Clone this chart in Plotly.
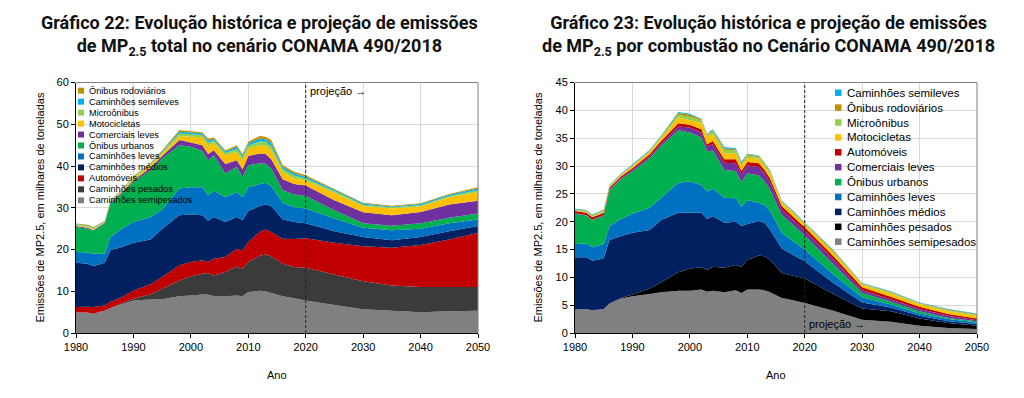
import plotly.graph_objects as go

# page is rendered with the browser's default 8px body margin
OFF = 8
W, H = 1024 - 2 * OFF, 398 - 2 * OFF

years = [1980, 1982, 1983, 1985, 1986, 1988, 1990, 1993, 1995, 1998, 2000, 2002, 2003, 2004, 2006,
         2008, 2009, 2010, 2012, 2013, 2014, 2016, 2018, 2020, 2025, 2030, 2035, 2040, 2045, 2050]
x_ticks = [1980, 1990, 2000, 2010, 2020, 2030, 2040, 2050]
projection_start = 2020

# ---- Gráfico 22 (total) ----
L_semipesados = [4.9, 4.9, 4.6, 5.4, 5.9, 6.9, 7.8, 8.0, 8.1, 8.8, 9.0, 9.2, 9.2, 8.8, 8.8, 9.0, 8.8, 9.8, 10.1, 10.0, 9.6, 8.8, 8.3, 7.8, 6.7, 5.7, 5.3, 5.0, 5.2, 5.3]
L_pesados = [0, 0, 0, 0, 0.1, 0.2, 0.4, 1.3, 2.5, 3.8, 4.6, 5.0, 5.2, 5.0, 5.8, 6.9, 6.6, 7.2, 8.4, 8.8, 8.8, 7.8, 7.5, 7.8, 7.3, 6.7, 6.1, 6.0, 5.8, 5.7]
L_automoveis = [1.3, 1.4, 1.6, 1.2, 1.4, 1.5, 2.0, 2.4, 2.8, 3.6, 3.4, 3.2, 2.6, 4.0, 3.6, 4.3, 4.4, 4.8, 5.7, 6.0, 5.8, 6.0, 6.7, 7.1, 7.6, 8.4, 9.0, 10.1, 11.4, 13.0]
L_medios = [10.6, 10.3, 9.8, 10.2, 12.4, 12.0, 11.4, 10.7, 11.6, 12.0, 11.4, 10.8, 9.9, 10.0, 8.4, 7.6, 7.2, 7.4, 6.2, 6.0, 6.2, 4.6, 4.1, 3.6, 2.8, 2.2, 1.8, 1.9, 2.0, 1.6]
L_leves = [2.6, 2.7, 3.0, 2.2, 3.2, 4.4, 5.0, 5.4, 4.6, 6.4, 6.5, 6.7, 6.1, 6.3, 5.9, 6.0, 5.5, 5.7, 5.3, 5.2, 4.8, 4.0, 3.6, 3.5, 3.0, 2.2, 2.4, 2.0, 1.9, 1.6]
L_urbanos = [6.0, 5.7, 5.5, 7.2, 8.0, 8.4, 9.6, 11.2, 12.2, 10.4, 9.7, 8.7, 8.4, 8.5, 5.7, 6.0, 4.9, 5.3, 4.9, 4.6, 4.2, 3.0, 3.0, 3.0, 2.0, 1.1, 1.1, 1.3, 1.3, 1.4]
L_comerciais = [0.2, 0.2, 0.2, 0.2, 0.3, 0.3, 0.4, 0.6, 0.6, 1.2, 1.0, 1.4, 1.5, 1.2, 2.3, 1.6, 1.8, 2.2, 2.4, 2.3, 2.2, 2.6, 2.5, 2.5, 2.4, 2.6, 2.5, 2.7, 3.2, 3.1]
L_motocicletas = [0.2, 0.2, 0.2, 0.1, 0.2, 0.3, 0.4, 0.6, 0.5, 1.0, 1.4, 1.9, 1.9, 1.8, 2.1, 2.0, 2.2, 1.8, 1.9, 2.0, 2.2, 1.8, 1.3, 1.2, 1.8, 1.5, 1.6, 1.3, 1.7, 2.1]
L_microonibus = [0.2, 0.2, 0.2, 0.1, 0.1, 0.2, 0.3, 0.3, 0.4, 0.6, 0.6, 0.5, 0.8, 0.5, 0.5, 0.7, 0.7, 0.7, 1.0, 0.9, 1.0, 0.7, 0.7, 0.5, 0.4, 0.3, 0.3, 0.3, 0.3, 0.4]
L_semileves = [0.1, 0.1, 0.1, 0.1, 0.1, 0.1, 0.1, 0.1, 0.2, 0.4, 0.4, 0.4, 0.5, 0.4, 0.4, 0.5, 0.4, 0.5, 0.7, 0.6, 0.7, 0.5, 0.5, 0.4, 0.3, 0.3, 0.2, 0.3, 0.3, 0.4]
L_rodoviarios = [0.1, 0.2, 0.2, 0.1, 0.1, 0.1, 0.2, 0.2, 0.2, 0.4, 0.3, 0.3, 0.5, 0.3, 0.3, 0.4, 0.4, 0.4, 0.6, 0.6, 0.7, 0.4, 0.4, 0.4, 0.2, 0.2, 0.2, 0.2, 0.2, 0.3]

# ---- Gráfico 23 (combustão) ----
R_semipesados = [4.2, 4.3, 4.1, 4.3, 5.3, 6.2, 6.6, 7.0, 7.3, 7.6, 7.6, 7.8, 7.4, 7.6, 7.3, 7.7, 7.2, 7.8, 7.8, 7.7, 7.3, 6.3, 5.9, 5.4, 4.0, 2.4, 2.0, 1.3, 0.9, 0.7]
R_pesados = [0, 0, 0, 0, 0, 0.1, 0.3, 1.0, 1.8, 3.3, 4.0, 4.0, 3.9, 4.3, 4.4, 4.5, 4.7, 5.3, 6.1, 6.1, 5.8, 4.5, 4.4, 4.4, 3.0, 2.0, 1.9, 1.3, 0.9, 0.6]
R_medios = [9.4, 9.3, 8.9, 9.1, 11.4, 11.1, 11.1, 10.5, 11.2, 10.7, 10.0, 9.8, 9.2, 9.1, 8.1, 7.8, 7.3, 6.5, 6.2, 6.0, 5.4, 4.4, 3.7, 3.1, 2.0, 1.1, 0.7, 0.5, 0.3, 0.3]
R_leves = [2.4, 2.5, 2.4, 2.6, 2.5, 3.1, 3.4, 4.0, 4.0, 5.4, 5.6, 5.0, 4.9, 4.9, 4.5, 4.2, 3.5, 4.3, 3.3, 3.2, 3.4, 2.8, 2.5, 2.1, 1.5, 0.9, 0.5, 0.4, 0.4, 0.3]
R_urbanos = [5.4, 5.0, 4.9, 5.0, 6.4, 7.1, 7.6, 8.9, 9.3, 9.4, 8.8, 8.5, 7.2, 6.9, 5.0, 4.9, 4.4, 4.8, 4.9, 4.3, 3.8, 3.2, 2.9, 2.5, 1.8, 0.8, 0.5, 0.4, 0.2, 0.2]
R_comerciais = [0.1, 0.1, 0.1, 0.2, 0.2, 0.2, 0.3, 0.3, 0.4, 0.7, 0.9, 0.9, 0.9, 1.1, 1.3, 1.4, 1.4, 1.4, 1.5, 1.4, 1.4, 1.0, 0.9, 0.9, 0.9, 0.5, 0.4, 0.4, 0.4, 0.2]
R_automoveis = [0.4, 0.4, 0.4, 0.4, 0.3, 0.3, 0.3, 0.4, 0.5, 0.6, 0.5, 0.6, 0.4, 0.6, 0.6, 0.7, 0.6, 0.6, 0.7, 0.6, 0.6, 0.6, 0.6, 0.6, 0.6, 0.5, 0.5, 0.4, 0.3, 0.3]
R_motocicletas = [0.1, 0.1, 0.1, 0.2, 0.2, 0.2, 0.3, 0.4, 0.5, 1.0, 0.8, 1.2, 1.4, 1.2, 1.1, 1.1, 0.9, 0.8, 0.8, 0.6, 0.8, 0.6, 0.6, 0.5, 0.6, 0.5, 0.6, 0.5, 0.5, 0.5]
R_microonibus = [0.1, 0.2, 0.2, 0.2, 0.1, 0.1, 0.2, 0.2, 0.3, 0.5, 0.6, 0.4, 0.3, 0.5, 0.6, 0.5, 0.4, 0.4, 0.3, 0.4, 0.4, 0.2, 0.2, 0.2, 0.2, 0.1, 0.2, 0.1, 0.2, 0.2]
R_rodoviarios = [0.1, 0.1, 0.1, 0.1, 0.1, 0.1, 0.1, 0.1, 0.1, 0.3, 0.4, 0.2, 0.1, 0.2, 0.3, 0.2, 0.2, 0.2, 0.2, 0.2, 0.2, 0.1, 0.1, 0.1, 0.2, 0.1, 0.1, 0.1, 0.1, 0.1]
R_semileves = [0.1, 0.1, 0.1, 0.1, 0.1, 0.1, 0.1, 0.1, 0.1, 0.2, 0.2, 0.1, 0.1, 0.2, 0.2, 0.2, 0.2, 0.1, 0.1, 0.1, 0.1, 0.1, 0.1, 0.1, 0.1, 0.1, 0.1, 0.1, 0.1, 0.1]

C = {
    "semipesados": "#808080", "pesados_L": "#3B3B3B", "pesados_R": "#000000",
    "automoveis": "#C00000", "medios": "#002060", "leves": "#0070C0",
    "urbanos": "#00B050", "comerciais": "#7030A0", "motocicletas": "#FFC000",
    "microonibus": "#92D050", "semileves": "#00B0F0", "rodoviarios": "#BF9000",
}

left_series = [  # bottom -> top
    ("Caminhões semipesados", L_semipesados, C["semipesados"]),
    ("Caminhões pesados", L_pesados, C["pesados_L"]),
    ("Automóveis", L_automoveis, C["automoveis"]),
    ("Caminhões médios", L_medios, C["medios"]),
    ("Caminhões leves", L_leves, C["leves"]),
    ("Ônibus urbanos", L_urbanos, C["urbanos"]),
    ("Comerciais leves", L_comerciais, C["comerciais"]),
    ("Motocicletas", L_motocicletas, C["motocicletas"]),
    ("Microônibus", L_microonibus, C["microonibus"]),
    ("Caminhões semileves", L_semileves, C["semileves"]),
    ("Ônibus rodoviários", L_rodoviarios, C["rodoviarios"]),
]
right_series = [  # bottom -> top
    ("Caminhões semipesados", R_semipesados, C["semipesados"]),
    ("Caminhões pesados", R_pesados, C["pesados_R"]),
    ("Caminhões médios", R_medios, C["medios"]),
    ("Caminhões leves", R_leves, C["leves"]),
    ("Ônibus urbanos", R_urbanos, C["urbanos"]),
    ("Comerciais leves", R_comerciais, C["comerciais"]),
    ("Automóveis", R_automoveis, C["automoveis"]),
    ("Motocicletas", R_motocicletas, C["motocicletas"]),
    ("Microônibus", R_microonibus, C["microonibus"]),
    ("Ônibus rodoviários", R_rodoviarios, C["rodoviarios"]),
    ("Caminhões semileves", R_semileves, C["semileves"]),
]

def px(x):
    return (x - OFF) / W

def py(y):
    return 1 - (y - OFF) / H

fig = go.Figure()
for name, vals, col in left_series:
    fig.add_trace(go.Scatter(x=years, y=vals, name=name, stackgroup="L", mode="none",
                             fillcolor=col, showlegend=False, xaxis="x", yaxis="y"))
for name, vals, col in right_series:
    fig.add_trace(go.Scatter(x=years, y=vals, name=name, stackgroup="R", mode="none",
                             fillcolor=col, showlegend=False, xaxis="x2", yaxis="y2"))

TICKF = dict(family="Liberation Sans Narrow, Liberation Sans, Arial", size=11, color="#000")
TXTF = dict(family="Liberation Sans, Arial", color="#000")
ydom = [py(333), py(82.5)]

def xax(domain, anchor):
    return dict(domain=domain, anchor=anchor, range=[1980, 2050], tickvals=x_ticks,
                ticks="outside", ticklen=4, tickcolor="#000", showline=True, linecolor="#000",
                linewidth=1, showgrid=True, gridcolor="#D9D9D9", gridwidth=1, zeroline=False,
                tickfont=TICKF, automargin=False)

def yax(domain, anchor, rmax, dt):
    return dict(domain=domain, anchor=anchor, range=[0, rmax], dtick=dt, tick0=0,
                ticks="outside", ticklen=4, tickcolor="#000", showline=True, linecolor="#000",
                linewidth=1, showgrid=True, gridcolor="#D9D9D9", gridwidth=1, zeroline=False,
                tickfont=TICKF, automargin=False)

fig.update_layout(
    width=W, height=H, margin=dict(l=0, r=0, t=0, b=0, autoexpand=False),
    paper_bgcolor="white", plot_bgcolor="white",
    xaxis=xax([px(76), px(478)], "y"),
    yaxis=yax(ydom, "x", 60, 10),
    xaxis2=xax([px(575), px(977)], "y2"),
    yaxis2=yax(ydom, "x2", 45, 5),
)

shapes = []
annotations = []
for xa, ya in (("x", "y"), ("x2", "y2")):
    # top and right frame
    shapes.append(dict(type="line", xref=f"{xa} domain", yref=f"{ya} domain", x0=0, x1=1, y0=1, y1=1,
                       line=dict(color="#808080", width=1)))
    shapes.append(dict(type="line", xref=f"{xa} domain", yref=f"{ya} domain", x0=1, x1=1, y0=0, y1=1,
                       line=dict(color="#808080", width=1)))
    # projection line
    shapes.append(dict(type="line", xref=xa, yref=f"{ya} domain", x0=projection_start, x1=projection_start,
                       y0=0, y1=1, line=dict(color="#222", width=1, dash="3px,2px"), layer="above"))

annotations.append(dict(text="projeção →", x=projection_start, y=0.968, xref="x", yref="y domain",
                        xanchor="left", yanchor="middle", xshift=2, showarrow=False,
                        font=dict(TXTF, size=11)))
annotations.append(dict(text="projeção →", x=projection_start, y=0.036, xref="x2", yref="y2 domain",
                        xanchor="left", yanchor="middle", xshift=2, showarrow=False,
                        font=dict(TXTF, size=11)))

# titles
TITLEF = dict(family="Roboto", size=18, color="#111")
annotations.append(dict(text="<b>Gráfico 22: Evolução histórica e projeção de emissões<br>de MP<sub>2.5</sub> total no cenário CONAMA 490/2018</b>",
                        x=px(259), y=py(36), xref="paper", yref="paper", showarrow=False,
                        xanchor="center", yanchor="middle", align="center", font=TITLEF))
annotations.append(dict(text="<b>Gráfico 23: Evolução histórica e projeção de emissões<br>de MP<sub>2.5</sub> por combustão no Cenário CONAMA 490/2018</b>",
                        x=px(768), y=py(36), xref="paper", yref="paper", showarrow=False,
                        xanchor="center", yanchor="middle", align="center", font=TITLEF))

# axis titles
ytitle = "Emissões de MP2.5, em milhares de toneladas"
for xc, xa in ((40, 277), (538, 776)):
    annotations.append(dict(text=ytitle, x=px(xc), y=py(207.5), xref="paper", yref="paper",
                            showarrow=False, textangle=-90, xanchor="center", yanchor="middle",
                            font=dict(TXTF, size=11)))
    annotations.append(dict(text="Ano", x=px(xa), y=py(375), xref="paper", yref="paper",
                            showarrow=False, xanchor="center", yanchor="middle",
                            font=dict(TXTF, size=11)))

# manual legends
def legend(series, x_mark, y_first, step, size, fsize):
    for i, (name, _, col) in enumerate(reversed(series)):
        yc = y_first + i * step
        shapes.append(dict(type="rect", xref="paper", yref="paper",
                           x0=px(x_mark), x1=px(x_mark + size), y0=py(yc + size / 2), y1=py(yc - size / 2),
                           fillcolor=col, line=dict(width=0)))
        annotations.append(dict(text=name, x=px(x_mark + size + 3), y=py(yc), xref="paper", yref="paper",
                                showarrow=False, xanchor="left", yanchor="middle",
                                font=dict(TXTF, size=fsize)))

legend(left_series, 78, 90.7, 10.96, 6, 9.2)
legend(right_series, 835, 92.7, 14.9, 6.5, 11.5)

fig.update_layout(shapes=shapes, annotations=annotations)
fig.write_html("out.html")
